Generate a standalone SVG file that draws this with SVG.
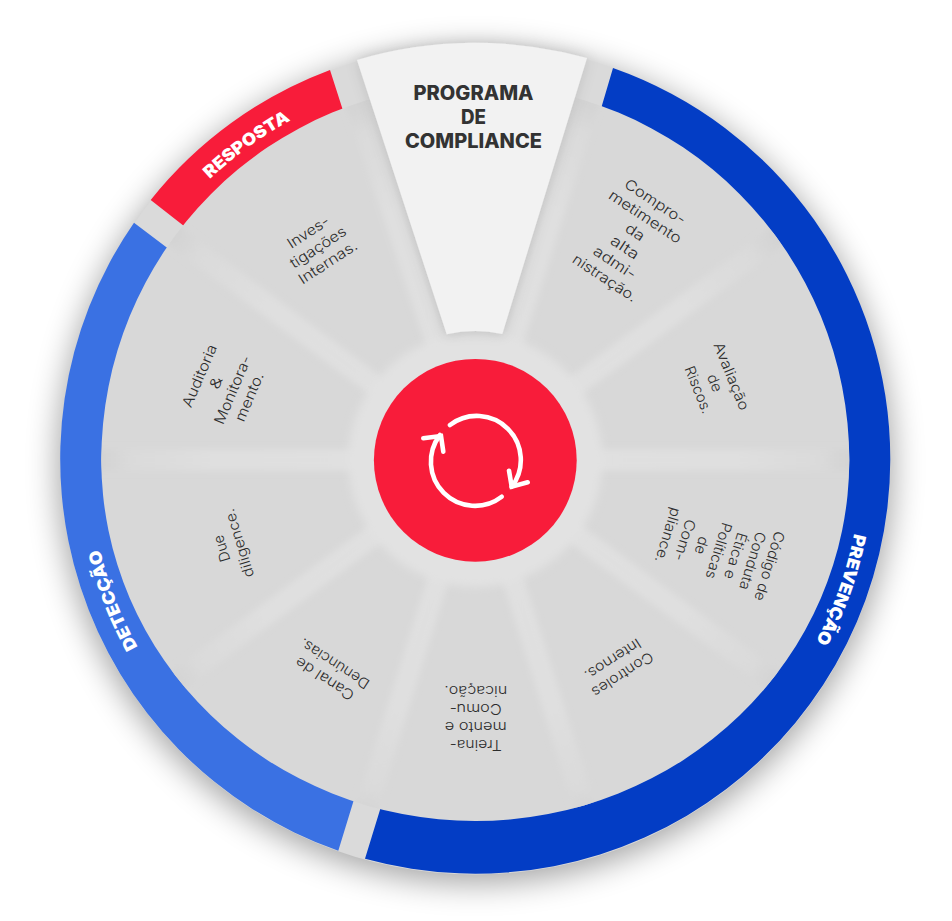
<svg xmlns="http://www.w3.org/2000/svg" width="952" height="921" viewBox="0 0 952 921">
<style>
.lb{font-family:"Inter","Liberation Sans",sans-serif;font-size:14.5px;font-weight:300;fill:#2c2c2c;text-anchor:middle}
.rg{font-family:"Inter","Liberation Sans",sans-serif;font-size:17px;font-weight:900;fill:#fff;text-anchor:middle}
.tt{font-family:"Inter","Liberation Sans",sans-serif;font-size:19.5px;font-weight:800;fill:#333;text-anchor:middle}
.sp{fill:none;stroke:url(#spokeg)}
.ic{fill:none;stroke:#fff;stroke-width:4.6;stroke-linecap:round}
</style>
<defs>
<filter id="mainshadow" filterUnits="userSpaceOnUse" x="0" y="0" width="952" height="921"><feGaussianBlur stdDeviation="16"/></filter>
<filter id="b2" filterUnits="userSpaceOnUse" x="0" y="0" width="952" height="921"><feGaussianBlur stdDeviation="4"/></filter>
<filter id="b3" filterUnits="userSpaceOnUse" x="0" y="0" width="952" height="921"><feGaussianBlur stdDeviation="3"/></filter>
<filter id="ws" filterUnits="userSpaceOnUse" x="0" y="0" width="952" height="921"><feDropShadow dx="0" dy="0" stdDeviation="7" flood-color="#000" flood-opacity="0.12"/></filter>
<radialGradient id="spokeg" gradientUnits="userSpaceOnUse" cx="475.3" cy="460" r="375">
<stop offset="0" stop-color="#e1e1e1"/><stop offset="0.7" stop-color="#dfdfdf"/><stop offset="0.92" stop-color="#dadada"/><stop offset="1" stop-color="#d3d3d3"/>
</radialGradient>
<clipPath id="inner"><path d="M101.3,460A374,376 0 0 1 849.3,460A374,361 0 0 1 101.3,460Z"/></clipPath>
<path id="arcR" d="M89.3,459.5a386,386 0 1 1 772,0a386,386 0 1 1 -772,0"/>
</defs>

<circle cx="475.3" cy="466" r="417" fill="#000" opacity="0.36" filter="url(#mainshadow)"/>
<circle cx="475.3" cy="459.5" r="415" fill="#dadada"/>

<g id="ring">
<g id="seg-prevencao"><path d="M613,68A415,415 0 0 1 890.3,459.5A415,415 0 0 1 365,858.7L395,761L475,460L590,146Z" fill="#033dc5"/></g>
<g id="seg-deteccao"><path d="M338.3,850.7A415,415 0 0 1 134,222.7L197.4,270.7L475,460L368.3,752.7Z" fill="#3a71e3"/></g>
<g id="seg-resposta"><path d="M150.7,200A415,415 0 0 1 330,70L355,148L475,460L212.7,248.6Z" fill="#f81c3a"/></g>
</g>

<path id="sectors" d="M101.3,460A374,376 0 0 1 849.3,460A374,361 0 0 1 101.3,460Z" fill="#d8d8d8"/>
<g clip-path="url(#inner)">
<g id="spokes" filter="url(#b3)"><g class="sp" stroke-width="21">
<path d="M475.3,460L355,99.5"/><path d="M475.3,460L589.9,97.7"/><path d="M475.3,460L780.8,234"/><path d="M475.3,460L855.3,460"/><path d="M475.3,460L780.8,686"/><path d="M475.3,460L589.6,822.4"/><path d="M475.3,460L362,822.7"/><path d="M475.3,460L169.8,686"/><path d="M475.3,460L95.3,460"/><path d="M475.3,460L170.6,232.9"/>
</g></g>
<circle cx="475.3" cy="460" r="127" fill="#e2e2e2" filter="url(#b2)"/>
</g>

<g id="node-programa">
<path d="M357,60A416,416 0 0 1 587,58L502.3,334A128,128 0 0 0 446.7,334.3Z" fill="#f2f2f2" filter="url(#ws)"/>
<text class="tt" x="473.5" y="100" textLength="120" lengthAdjust="spacingAndGlyphs">PROGRAMA</text>
<text class="tt" x="473.5" y="124" textLength="25" lengthAdjust="spacingAndGlyphs">DE</text>
<text class="tt" x="473.5" y="147.7" textLength="137" lengthAdjust="spacingAndGlyphs">COMPLIANCE</text>
</g>

<g id="node-centro">
<circle cx="475.3" cy="460.3" r="101.4" fill="#f81c3a"/>
<path class="ic" d="M450,425A44,44 0 0 1 511.7,486.7"/>
<path class="ic" d="M509,470.7L511.7,486.7L527.7,482.3"/>
<path class="ic" d="M501.7,496.7A44,44 0 0 1 440,435"/>
<path class="ic" d="M423.3,438.3L441,436L443.3,451.7"/>
</g>

<g id="label-prevencao"><text class="rg"><textPath href="#arcR" startOffset="55.45%" textLength="115" lengthAdjust="spacingAndGlyphs">PREVENÇÃO</textPath></text></g>
<g id="label-deteccao"><text class="rg"><textPath href="#arcR" startOffset="94.1%" textLength="105" lengthAdjust="spacingAndGlyphs">DETECÇÃO</textPath></text></g>
<g id="label-resposta"><text class="rg"><textPath href="#arcR" startOffset="15%" textLength="100" lengthAdjust="spacingAndGlyphs">RESPOSTA</textPath></text></g>

<g id="node-compromisso" transform="translate(655,202) rotate(33.5)">
<text class="lb" y="4.5" textLength="70" lengthAdjust="spacingAndGlyphs">Compro-</text>
<text class="lb" y="22.8" textLength="84" lengthAdjust="spacingAndGlyphs">metimento</text>
<text class="lb" y="41.1" textLength="20" lengthAdjust="spacingAndGlyphs">da</text>
<text class="lb" y="59.4" textLength="31" lengthAdjust="spacingAndGlyphs">alta</text>
<text class="lb" y="77.7" textLength="48" lengthAdjust="spacingAndGlyphs">admi-</text>
<text class="lb" y="96" textLength="74" lengthAdjust="spacingAndGlyphs">nistração.</text>
</g>
<g id="node-avaliacao" transform="translate(731,376.5) rotate(68)">
<text class="lb" y="4.5" textLength="72" lengthAdjust="spacingAndGlyphs">Avaliação</text>
<text class="lb" y="22.4" textLength="18" lengthAdjust="spacingAndGlyphs">de</text>
<text class="lb" y="40.3" textLength="50" lengthAdjust="spacingAndGlyphs">Riscos.</text>
</g>
<g id="node-codigo" transform="translate(769,566) rotate(107)">
<text class="lb" y="4.5" textLength="72" lengthAdjust="spacingAndGlyphs">Código de</text>
<text class="lb" y="22.2" textLength="60" lengthAdjust="spacingAndGlyphs">Conduta</text>
<text class="lb" y="39.9" textLength="48" lengthAdjust="spacingAndGlyphs">Ética e</text>
<text class="lb" y="57.6" textLength="58" lengthAdjust="spacingAndGlyphs">Políticas</text>
<text class="lb" y="75.3" textLength="18" lengthAdjust="spacingAndGlyphs">de</text>
<text class="lb" y="93" textLength="43" lengthAdjust="spacingAndGlyphs">Com-</text>
<text class="lb" y="110.7" textLength="57" lengthAdjust="spacingAndGlyphs">pliance.</text>
</g>
<g id="node-controles" transform="translate(622.3,674) rotate(147)">
<text class="lb" y="4.5" textLength="70" lengthAdjust="spacingAndGlyphs">Controles</text>
<text class="lb" y="22.5" textLength="64" lengthAdjust="spacingAndGlyphs">Internos.</text>
</g>
<g id="node-treinamento" transform="translate(475.7,744) rotate(180)">
<text class="lb" y="4.5" textLength="52" lengthAdjust="spacingAndGlyphs">Treina-</text>
<text class="lb" y="22.5" textLength="62" lengthAdjust="spacingAndGlyphs">mento e</text>
<text class="lb" y="40.5" textLength="52" lengthAdjust="spacingAndGlyphs">Comu-</text>
<text class="lb" y="58.5" textLength="63" lengthAdjust="spacingAndGlyphs">nicação.</text>
</g>
<g id="node-canal" transform="translate(325,678.3) rotate(213)">
<text class="lb" y="4.5" textLength="67" lengthAdjust="spacingAndGlyphs">Canal de</text>
<text class="lb" y="22.5" textLength="80" lengthAdjust="spacingAndGlyphs">Denúncias.</text>
</g>
<g id="node-due" transform="translate(222.3,548.3) rotate(253)">
<text class="lb" y="4.5" textLength="27" lengthAdjust="spacingAndGlyphs">Due</text>
<text class="lb" y="22.5" textLength="71" lengthAdjust="spacingAndGlyphs">diligence.</text>
</g>
<g id="node-auditoria" transform="translate(200,376) rotate(-67)">
<text class="lb" y="4.5" textLength="67" lengthAdjust="spacingAndGlyphs">Auditoria</text>
<text class="lb" y="22.5" textLength="12" lengthAdjust="spacingAndGlyphs">&amp;</text>
<text class="lb" y="40.5" textLength="73" lengthAdjust="spacingAndGlyphs">Monitora-</text>
<text class="lb" y="58.5" textLength="52" lengthAdjust="spacingAndGlyphs">mento.</text>
</g>
<g id="node-investigacoes" transform="translate(308.5,232.5) rotate(-33)">
<text class="lb" y="4.5" textLength="47" lengthAdjust="spacingAndGlyphs">Inves-</text>
<text class="lb" y="22.5" textLength="64" lengthAdjust="spacingAndGlyphs">tigações</text>
<text class="lb" y="40.5" textLength="67" lengthAdjust="spacingAndGlyphs">Internas.</text>
</g>
</svg>
